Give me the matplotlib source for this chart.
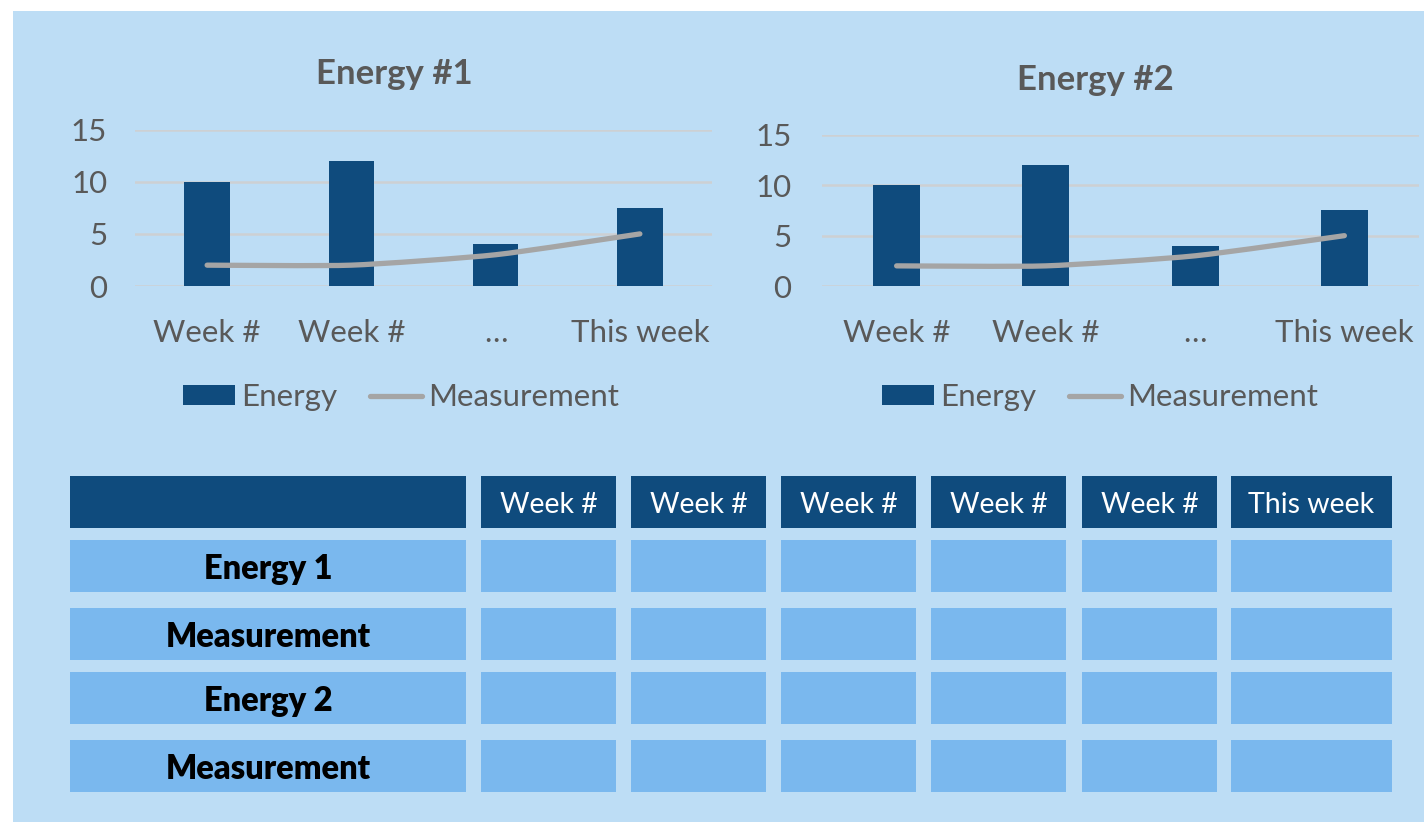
import matplotlib
matplotlib.use("Agg")
import matplotlib.pyplot as plt
from matplotlib.patches import Rectangle
from matplotlib.path import Path
from matplotlib.patches import PathPatch
from matplotlib.lines import Line2D
import numpy as np

# ---------------- data ----------------
categories = ["Week #", "Week #", "\u2026", "This week"]
energy1 = [10, 12, 4, 7.5]
measure1 = [2, 2, 3, 5]
energy2 = [10, 12, 4, 7.5]
measure2 = [2, 2, 3, 5]
chart_titles = ["Energy #1", "Energy #2"]
series_names = ["Energy", "Measurement"]
yticks = [0, 5, 10, 15]

table_cols = ["Week #", "Week #", "Week #", "Week #", "Week #", "This week"]
table_rows = ["Energy 1", "Measurement", "Energy 2", "Measurement"]

# ---------------- style ----------------
W, H = 1424, 822
BG = "#BDDDF5"
DARK = "#0F4B7D"
CELL = "#7AB8EE"
GRID = "#CDD0D3"
TXT = "#595959"
LINE = "#A5A5A5"
FONT = ["Lato", "DejaVu Sans"]
plt.rcParams["font.family"] = FONT

fig = plt.figure(figsize=(W / 100, H / 100), dpi=100)
fig.patch.set_facecolor("white")


def frect(x0, y0, x1, y1):
    return [x0 / W, 1 - y1 / H, (x1 - x0) / W, (y1 - y0) / H]


# background panel
bg_ax = fig.add_axes([0, 0, 1, 1])
bg_ax.set_xlim(0, W)
bg_ax.set_ylim(H, 0)
bg_ax.axis("off")
bg_ax.add_patch(Rectangle((13, 11), W - 13, H - 11, facecolor=BG, edgecolor="none"))


def smooth_path(xs, ys, k=1 / 10.0):
    pts = np.column_stack([xs, ys]).astype(float)
    n = len(pts)
    verts = [pts[0]]
    codes = [Path.MOVETO]
    for i in range(n - 1):
        p0 = pts[i - 1] if i > 0 else pts[i]
        p1 = pts[i]
        p2 = pts[i + 1]
        p3 = pts[i + 2] if i + 2 < n else pts[i + 1]
        c1 = p1 + (p2 - p0) * k
        c2 = p2 - (p3 - p1) * k
        verts += [c1, c2, p2]
        codes += [Path.CURVE4] * 3
    return Path(verts, codes)


def draw_chart(rect, title, title_xy, energy, measure, xpad, ypad, legend_xy):
    ax = fig.add_axes(rect)
    ax.set_facecolor("none")
    x = np.arange(len(categories))
    ax.bar(x, energy, width=0.315, color=DARK, zorder=2)
    pp = PathPatch(smooth_path(x, measure), facecolor="none", edgecolor=LINE,
                   linewidth=3.8, capstyle="round", joinstyle="round", zorder=3)
    ax.add_patch(pp)
    ax.set_xlim(-0.5, len(categories) - 0.5)
    ax.set_ylim(0, 15)
    ax.set_yticks(yticks)
    ax.set_xticks(x)
    ax.set_xticklabels(categories)
    ax.grid(axis="y", color=GRID, linewidth=1.8, zorder=0)
    ax.set_axisbelow(True)
    for s in ax.spines.values():
        s.set_visible(False)
    ax.tick_params(axis="x", length=0, pad=xpad, labelsize=22.5, labelcolor=TXT)
    ax.tick_params(axis="y", length=0, pad=ypad, labelsize=22.5, labelcolor=TXT)
    fig.text(title_xy[0] / W, 1 - title_xy[1] / H, title, ha="center", va="baseline",
             fontsize=25, fontweight="bold", color=TXT)
    handles = [Rectangle((0, 0), 1, 1, facecolor=DARK),
               Line2D([0], [0], color=LINE, linewidth=3.8, solid_capstyle="round")]
    fig.legend(handles, series_names, loc="center",
               bbox_to_anchor=(legend_xy[0] / W, 1 - legend_xy[1] / H),
               ncol=2, frameon=False, fontsize=22.5, labelcolor=TXT,
               handlelength=1.65, handleheight=0.57, handletextpad=0.2,
               columnspacing=1.05, borderpad=0)
    return ax


draw_chart(frect(135, 129.7, 712, 286), chart_titles[0], (394, 84),
           energy1, measure1, 24, 20, (401, 397))
draw_chart(frect(822, 135, 1419, 286), chart_titles[1], (1095, 90),
           energy2, measure2, 24, 22, (1100, 397))

# ---------------- table (layout) ----------------
col_edges = [(70, 466), (481, 616), (631, 766), (781, 916), (931, 1066),
             (1082, 1217), (1231, 1392)]
row_edges = [(476, 528), (540, 592), (608, 660), (672, 724), (740, 792)]

for ci, (x0, x1) in enumerate(col_edges):
    for ri, (y0, y1) in enumerate(row_edges):
        color = DARK if ri == 0 else CELL
        bg_ax.add_patch(Rectangle((x0, y0), x1 - x0, y1 - y0, facecolor=color,
                                  edgecolor="none"))
        cx, cy = (x0 + x1) / 2, (y0 + y1) / 2
        if ri == 0 and ci > 0:
            bg_ax.text(cx, cy, table_cols[ci - 1], ha="center", va="center_baseline",
                       fontsize=20.5, color="white")
        elif ri > 0 and ci == 0:
            bg_ax.text(cx, cy, table_rows[ri - 1], ha="center", va="center_baseline",
                       fontsize=23.5, fontweight="heavy", color="black")

fig.savefig("out.png", dpi=100, facecolor=fig.get_facecolor())
